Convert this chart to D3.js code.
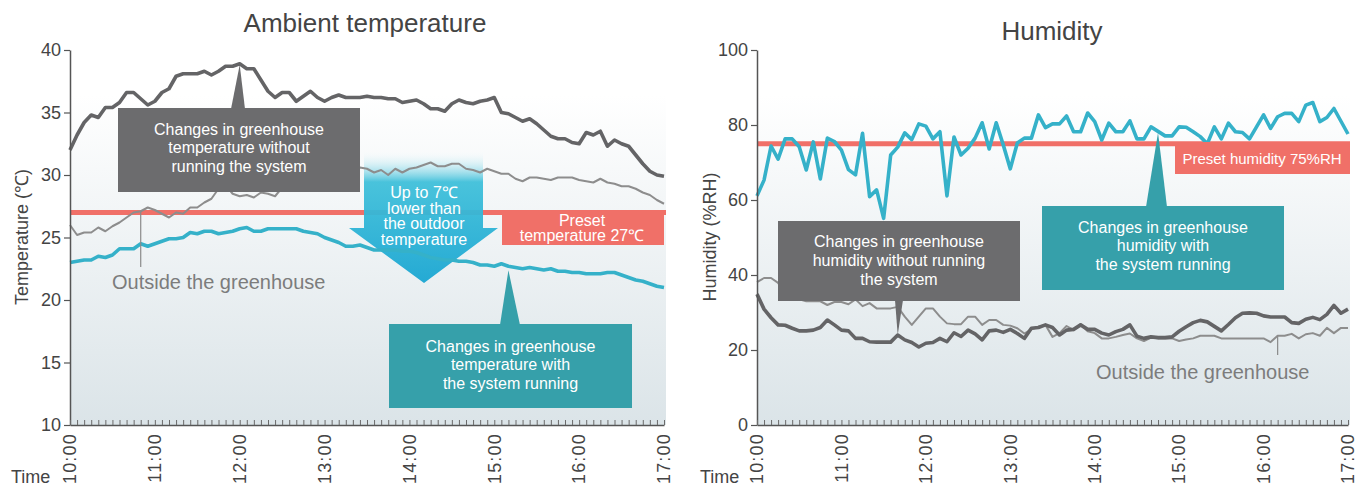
<!DOCTYPE html>
<html>
<head>
<meta charset="utf-8">
<script src="https://cdn.jsdelivr.net/npm/d3@7"></script>
<style>
  body { margin: 0; background: #fff; }
  svg { display: block; font-family: "Liberation Sans", Arial, sans-serif; }
</style>
</head>
<body>
<div id="chart"></div>
<script>
  // hour labels on the time axis, readings are every 5 minutes 10:00 - 17:00
  const hourLabels = ["10:00", "11:00", "12:00", "13:00", "14:00", "15:00", "16:00", "17:00"];
  const tempTicks = [10, 15, 20, 25, 30, 35, 40];
  const humTicks = [0, 20, 40, 60, 80, 100];
  const presetTemp = 27;
  const presetHum = 75;

  // ambient temperature (deg C)
  const tempWithout = [
    32.0, 33.2, 34.2, 34.8, 34.6, 35.4, 35.4, 35.8, 36.6, 36.6,
    36.1, 35.6, 35.9, 36.6, 36.9, 37.9, 38.1, 38.1, 38.1, 38.3,
    38.0, 38.3, 38.7, 38.7, 38.9, 38.5, 38.5, 37.6, 36.7, 36.2,
    36.6, 36.6, 35.9, 36.3, 36.7, 36.2, 35.9, 36.2, 36.4, 36.2,
    36.2, 36.2, 36.3, 36.2, 36.2, 36.1, 36.1, 35.8, 35.9, 36.0,
    35.7, 35.3, 35.3, 35.1, 35.7, 36.0, 35.8, 35.7, 35.9, 36.0,
    36.2, 35.0, 34.9, 34.6, 34.3, 34.5, 34.1, 33.6, 33.1, 32.9,
    32.9, 32.6, 32.5, 33.4, 33.2, 33.5, 32.3, 32.8, 32.5, 32.3,
    31.6, 30.9, 30.3, 30.0, 29.9
  ];
  const tempOutside = [
    26.0, 25.2, 25.4, 25.4, 25.8, 25.5, 25.9, 26.2, 26.6, 27.0,
    27.1, 27.4, 27.2, 26.9, 26.6, 27.0, 26.9, 27.4, 27.4, 27.8,
    28.1, 28.9, 29.2, 28.5, 28.3, 28.4, 28.2, 28.6, 28.5, 28.3,
    29.0, 29.4, 29.6, 29.8, 30.0, 30.1, 30.3, 30.2, 30.4, 30.5,
    30.4, 30.6, 30.5, 30.2, 30.4, 30.0, 30.5, 30.2, 30.5, 30.6,
    30.8, 31.0, 30.7, 30.7, 30.9, 30.9, 30.5, 30.4, 30.2, 30.5,
    30.3, 30.1, 30.1, 29.7, 29.5, 29.8, 29.8, 29.7, 29.6, 29.8,
    29.8, 29.8, 29.6, 29.5, 29.4, 29.7, 29.4, 29.3, 29.1, 29.1,
    28.9, 28.6, 28.4, 28.0, 27.7
  ];
  const tempWith = [
    23.0, 23.1, 23.2, 23.2, 23.5, 23.4, 23.6, 24.1, 24.1, 24.1,
    24.5, 24.3, 24.5, 24.7, 24.9, 24.9, 25.0, 25.4, 25.3, 25.5,
    25.5, 25.3, 25.4, 25.5, 25.7, 25.8, 25.5, 25.5, 25.7, 25.7,
    25.7, 25.7, 25.7, 25.5, 25.4, 25.3, 25.0, 24.8, 24.6, 24.3,
    24.3, 24.4, 24.2, 24.0, 24.0, 24.0, 24.0, 23.9, 23.9, 23.8,
    23.6, 23.4, 23.3, 23.2, 23.2, 23.1, 23.1, 23.0, 22.8, 22.8,
    22.7, 22.9, 22.7, 22.6, 22.5, 22.6, 22.5, 22.4, 22.5, 22.3,
    22.3, 22.2, 22.2, 22.1, 22.1, 22.1, 22.2, 22.2, 22.0, 21.8,
    21.6, 21.5, 21.3, 21.1, 21.0
  ];

  // humidity (%RH)
  const humWith = [
    61.1, 65.3, 74.4, 70.9, 76.3, 76.3, 74.2, 68.0, 75.5, 65.6,
    76.5, 75.6, 73.3, 68.1, 66.7, 77.8, 60.9, 62.7, 55.1, 72.0,
    74.1, 77.9, 76.1, 80.3, 79.7, 76.3, 78.2, 61.1, 76.8, 72.0,
    73.8, 76.5, 80.6, 73.6, 80.6, 74.7, 68.3, 75.2, 76.5, 76.5,
    82.7, 79.3, 80.3, 80.3, 82.4, 78.2, 78.2, 83.2, 80.9, 76.0,
    80.5, 78.2, 78.2, 81.1, 76.3, 76.3, 79.5, 78.3, 77.1, 77.1,
    79.5, 79.4, 78.2, 76.9, 75.0, 79.5, 76.3, 80.5, 78.2, 78.0,
    76.3, 79.5, 82.7, 79.1, 82.2, 83.1, 83.1, 80.9, 85.3, 86.0,
    80.9, 82.0, 84.4, 81.0, 77.6
  ];
  const humWithout = [
    34.9, 30.9, 28.6, 26.7, 26.6, 25.8, 25.1, 25.1, 25.3, 26.0,
    28.0, 26.7, 25.3, 25.1, 23.1, 23.1, 22.2, 22.1, 22.1, 22.1,
    24.0, 22.7, 22.0, 20.8, 21.8, 22.0, 23.1, 22.2, 24.6, 23.6,
    25.3, 24.3, 22.7, 25.1, 25.3, 24.7, 25.5, 24.4, 23.1, 25.8,
    26.0, 26.7, 26.0, 24.0, 25.3, 25.5, 26.7, 25.5, 25.5, 24.5,
    24.0, 24.9, 25.5, 26.7, 23.7, 23.1, 23.5, 23.3, 23.3, 23.5,
    25.0, 26.2, 27.3, 27.9, 27.5, 26.3, 25.1, 26.8, 28.6, 29.8,
    29.9, 29.8, 29.1, 28.8, 28.8, 28.8, 27.3, 27.1, 28.2, 28.7,
    28.1, 29.5, 31.9, 29.8, 30.9
  ];
  const humOutside = [
    38.1, 39.2, 39.2, 37.9, 35.0, 34.0, 33.5, 33.0, 33.0, 33.0,
    32.0, 32.8, 32.8, 32.2, 33.5, 31.7, 32.5, 31.1, 31.1, 31.1,
    31.5, 28.9, 26.7, 28.9, 31.1, 31.1, 28.9, 27.1, 26.9, 26.9,
    28.9, 28.9, 26.7, 28.0, 28.0, 26.7, 26.5, 25.8, 24.4, 25.5,
    26.2, 26.7, 23.5, 24.5, 26.4, 25.3, 26.9, 25.0, 24.5, 23.1,
    23.1, 23.5, 24.0, 24.4, 23.1, 22.4, 23.3, 23.1, 23.1, 23.1,
    22.4, 22.8, 23.1, 23.8, 23.8, 23.8, 23.1, 23.1, 23.1, 23.1,
    23.1, 23.1, 23.1, 22.1, 23.8, 23.8, 24.3, 23.1, 24.2, 24.5,
    23.8, 25.9, 24.5, 25.9, 25.9
  ];

  const width = 1364;
  const height = 486;
  const plotTop = 50;
  const plotBottom = 425;

  const DARK = "#646466";
  const LIGHT = "#8d8d8d";
  const TEAL = "#35b1c9";
  const RED = "#f07068";
  const BOX_DARK = "#6c6c6e";
  const BOX_TEAL = "#36a0aa";
  const INK = "#444";

  const svg = d3.select("#chart").append("svg")
    .attr("width", width)
    .attr("height", height);

  const defs = svg.append("defs");

  const bg = defs.append("linearGradient")
    .attr("id", "bg")
    .attr("x1", 0).attr("y1", 0).attr("x2", 0).attr("y2", 1);
  bg.append("stop").attr("offset", "0%").attr("stop-color", "#ffffff");
  bg.append("stop").attr("offset", "12%").attr("stop-color", "#ffffff");
  bg.append("stop").attr("offset", "100%").attr("stop-color", "#dbe4e8");

  const arrowGrad = defs.append("linearGradient")
    .attr("id", "arrow")
    .attr("x1", 0).attr("y1", 0).attr("x2", 0).attr("y2", 1);
  arrowGrad.append("stop").attr("offset", "0%").attr("stop-color", "#ffffff").attr("stop-opacity", 0);
  arrowGrad.append("stop").attr("offset", "24%").attr("stop-color", "#40c0da").attr("stop-opacity", 0.95);
  arrowGrad.append("stop").attr("offset", "100%").attr("stop-color", "#1aa6d2").attr("stop-opacity", 0.95);

  function textLines(g, lines, cx, y0, lh, size) {
    g.append("text")
      .attr("text-anchor", "middle")
      .attr("font-size", size)
      .attr("fill", "#fff")
      .selectAll("tspan")
      .data(lines)
      .join("tspan")
        .attr("x", cx)
        .attr("y", (d, i) => y0 + i * lh)
        .text(d => d);
  }

  function drawPanel(p) {
    const x = d3.scaleLinear().domain([0, 420]).range([p.x0, p.x1]);
    const y = d3.scaleLinear().domain(p.yDomain).range([plotBottom, plotTop]);
    const g = svg.append("g");

    g.append("rect")
      .attr("x", p.x0)
      .attr("y", plotTop)
      .attr("width", p.x1 - p.x0 + 2)
      .attr("height", plotBottom - plotTop)
      .attr("fill", "url(#bg)");

    // preset line
    g.append("line")
      .attr("x1", p.x0).attr("x2", p.x1 + 2)
      .attr("y1", y(p.preset)).attr("y2", y(p.preset))
      .attr("stroke", RED)
      .attr("stroke-width", 5);

    if (p.under) p.under(g, x, y);

    const line = d3.line()
      .x((d, i) => x(i * 5))
      .y(d => y(d));

    g.append("path").attr("d", line(p.outside))
      .attr("fill", "none").attr("stroke", LIGHT).attr("stroke-width", 2)
      .attr("stroke-linejoin", "round");
    g.append("path").attr("d", line(p.without))
      .attr("fill", "none").attr("stroke", DARK).attr("stroke-width", 3.6)
      .attr("stroke-linejoin", "round");
    g.append("path").attr("d", line(p.withSys))
      .attr("fill", "none").attr("stroke", TEAL).attr("stroke-width", 3.6)
      .attr("stroke-linejoin", "round");

    // y axis
    const ya = g.append("g")
      .attr("transform", "translate(" + p.x0 + ",0)")
      .call(d3.axisLeft(y).tickValues(p.yTicks).tickSize(6).tickSizeOuter(0).tickPadding(3));
    ya.select(".domain").attr("stroke", "#555").attr("stroke-width", 1.5);
    ya.selectAll(".tick line").attr("stroke", "#555").attr("stroke-width", 1.2);
    ya.selectAll(".tick text")
      .attr("font-family", "Liberation Sans, Arial, sans-serif")
      .attr("font-size", 18)
      .attr("fill", INK);

    // time axis with 5 minute ticks
    const xa = g.append("g")
      .attr("transform", "translate(0," + plotBottom + ")")
      .call(d3.axisBottom(x).tickValues(d3.range(0, 421, 5)).tickSize(-5).tickSizeOuter(0).tickFormat(""));
    xa.select(".domain").attr("stroke", "#555").attr("stroke-width", 1.5);
    xa.selectAll(".tick line").attr("stroke", "#6a6a6a").attr("stroke-width", 1);

    g.selectAll(".hour")
      .data(hourLabels)
      .join("text")
        .attr("class", "hour")
        .attr("transform", (d, i) => "translate(" + x(i * 60) + "," + (plotBottom + 8) + ") rotate(-90)")
        .attr("text-anchor", "end")
        .attr("dy", "0.35em")
        .attr("font-size", 18)
        .attr("letter-spacing", 1.2)
        .attr("fill", INK)
        .text(d => d);

    g.append("text")
      .attr("x", p.timeX).attr("y", 483)
      .attr("font-size", 18).attr("fill", INK)
      .text("Time");

    g.append("text")
      .attr("transform", "translate(" + p.yLabelX + ",237) rotate(-90)")
      .attr("text-anchor", "middle")
      .attr("dy", "0.35em")
      .attr("font-size", 18)
      .attr("fill", INK)
      .text(p.yLabel);

    g.append("text")
      .attr("x", p.titleX).attr("y", p.titleY)
      .attr("text-anchor", "middle")
      .attr("font-size", 26)
      .attr("fill", INK)
      .text(p.title);

    if (p.over) p.over(g, x, y);
  }

  // ---- Ambient temperature ----
  drawPanel({
    x0: 70, x1: 664,
    yDomain: [10, 40], yTicks: tempTicks,
    preset: presetTemp,
    outside: tempOutside, without: tempWithout, withSys: tempWith,
    title: "Ambient temperature", titleX: 365, titleY: 32,
    yLabel: "Temperature (\u2103)", yLabelX: 22,
    timeX: 11,
    under: function (g, x, y) {
      // "up to 7 deg lower" arrow
      g.append("path")
        .attr("d", "M364,150 L483,150 L483,228 L498,228 L424,283 L349,228 L364,228 Z")
        .attr("fill", "url(#arrow)");
      textLines(g, ["Up to 7\u2103", "lower than", "the outdoor", "temperature"], 424, 198, 15.5, 16);
    },
    over: function (g, x, y) {
      // without system
      g.append("path")
        .attr("d", "M231,109 L245,109 L" + x(120) + "," + (y(tempWithout[24]) + 1) + " Z")
        .attr("fill", BOX_DARK);
      g.append("rect")
        .attr("x", 118).attr("y", 108).attr("width", 242).attr("height", 84)
        .attr("fill", BOX_DARK);
      textLines(g, ["Changes in greenhouse", "temperature without", "running the system"], 239, 134.5, 18.8, 16);

      // outside
      g.append("line")
        .attr("x1", x(50)).attr("x2", x(50))
        .attr("y1", y(tempOutside[10])).attr("y2", 267)
        .attr("stroke", "#8a8a8a").attr("stroke-width", 1.2);
      g.append("text")
        .attr("x", 112).attr("y", 289)
        .attr("font-size", 20).attr("fill", "#7c7c7c")
        .text("Outside the greenhouse");

      // preset label
      g.append("rect")
        .attr("x", 502).attr("y", 210).attr("width", 162).attr("height", 35)
        .attr("fill", RED);
      textLines(g, ["Preset", "temperature 27\u2103"], 582, 226, 14.5, 16);

      // with system
      g.append("path")
        .attr("d", "M500,325 L520,325 L" + x(310) + "," + (y(tempWith[62]) + 4) + " Z")
        .attr("fill", BOX_TEAL);
      g.append("rect")
        .attr("x", 389).attr("y", 324).attr("width", 243).attr("height", 84)
        .attr("fill", BOX_TEAL);
      textLines(g, ["Changes in greenhouse", "temperature with", "the system running"], 510.5, 351.5, 18.8, 16);
    }
  });

  // ---- Humidity ----
  drawPanel({
    x0: 757, x1: 1348,
    yDomain: [0, 100], yTicks: humTicks,
    preset: presetHum,
    outside: humOutside, without: humWithout, withSys: humWith,
    title: "Humidity", titleX: 1052, titleY: 40,
    yLabel: "Humidity (%RH)", yLabelX: 710,
    timeX: 700,
    over: function (g, x, y) {
      g.append("rect")
        .attr("x", 1175).attr("y", 142).attr("width", 175).attr("height", 32)
        .attr("fill", RED);
      textLines(g, ["Preset humidity 75%RH"], 1262, 163.5, 0, 15);

      // with system
      g.append("path")
        .attr("d", "M1146,207 L1167,207 L" + x(285) + "," + (y(humWith[57]) + 1) + " Z")
        .attr("fill", BOX_TEAL);
      g.append("rect")
        .attr("x", 1042).attr("y", 206).attr("width", 242).attr("height", 84)
        .attr("fill", BOX_TEAL);
      textLines(g, ["Changes in greenhouse", "humidity with", "the system running"], 1163, 232.5, 18.8, 16);

      // without system
      g.append("path")
        .attr("d", "M895,300 L903,300 L" + x(100) + "," + y(humWithout[20]) + " Z")
        .attr("fill", BOX_DARK);
      g.append("rect")
        .attr("x", 778).attr("y", 221).attr("width", 242).attr("height", 80)
        .attr("fill", BOX_DARK);
      textLines(g, ["Changes in greenhouse", "humidity without running", "the system"], 899, 247, 18.8, 16);

      // outside
      g.append("line")
        .attr("x1", x(370)).attr("x2", x(370))
        .attr("y1", y(humOutside[74])).attr("y2", 355)
        .attr("stroke", "#8a8a8a").attr("stroke-width", 1.2);
      g.append("text")
        .attr("x", 1096).attr("y", 379)
        .attr("font-size", 20).attr("fill", "#7c7c7c")
        .text("Outside the greenhouse");
    }
  });
</script>
</body>
</html>
